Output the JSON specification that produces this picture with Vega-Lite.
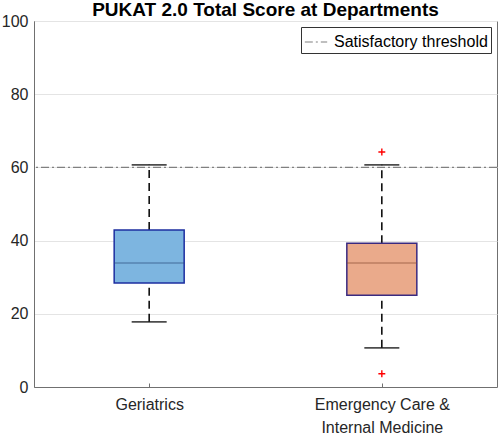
{
  "$schema": "https://vega.github.io/schema/vega-lite/v6.json",
  "autosize": "none",
  "width": 463,
  "height": 366,
  "padding": {"left": 34, "top": 21, "right": 3, "bottom": 48},
  "background": "white",
  "title": {"text": "PUKAT 2.0 Total Score at Departments", "font": "Liberation Sans", "fontSize": 19, "fontWeight": "bold", "color": "#000000", "offset": -7, "anchor": "middle"},
  "config": {
    "view": {"stroke": "#707070", "strokeWidth": 1},
    "font": "Liberation Sans"
  },
  "datasets": {
    "boxes": [
      {"dept": "Geriatrics", "lo": 17.8, "q1": 28.4, "median": 33.9, "q3": 42.9, "hi": 60.7},
      {"dept": "Emergency Care & Internal Medicine", "lo": 10.7, "q1": 25.1, "median": 33.9, "q3": 39.3, "hi": 60.7}
    ],
    "outliers": [
      {"dept": "Emergency Care & Internal Medicine", "value": 64.2},
      {"dept": "Emergency Care & Internal Medicine", "value": 3.6}
    ],
    "threshold": [{"label": "Satisfactory threshold", "y": 60}]
  },
  "encoding": {
    "x": {
      "field": "dept", "type": "nominal",
      "sort": ["Geriatrics", "Emergency Care & Internal Medicine"],
      "scale": {"type": "point", "padding": 0.495, "domain": ["Geriatrics", "Emergency Care & Internal Medicine"]},
      "axis": {
        "title": null, "labelAngle": 0, "labelFontSize": 16, "labelColor": "#262626",
        "labelPadding": 13, "labelLineHeight": 23, "domainColor": "#707070", "tickColor": "#707070", "tickSize": -4,
        "labelExpr": "datum.value == 'Emergency Care & Internal Medicine' ? ['Emergency Care &', 'Internal Medicine'] : datum.value"
      }
    }
  },
  "layer": [
    {
      "data": {"name": "threshold"},
      "mark": {"type": "rule", "color": "#808080", "strokeWidth": 1.2},
      "encoding": {
        "x": null,
        "y": {"field": "y", "type": "quantitative", "scale": {"domain": [0, 100], "nice": false},
          "axis": {"title": null, "values": [0, 20, 40, 60, 80, 100], "labelFontSize": 16, "labelColor": "#262626", "labelPadding": 6, "ticks": false,
            "domainColor": "#707070", "grid": true, "gridColor": "#e4e4e4", "gridWidth": 1}},
        "strokeDash": {"field": "label", "type": "nominal",
          "scale": {"domain": ["Satisfactory threshold"], "range": [[8, 3, 2, 3]]},
          "legend": {"title": null, "orient": "top-right", "offset": 6, "symbolType": "stroke", "symbolStrokeColor": "#808080", "symbolStrokeWidth": 1.2, "symbolSize": 500,
            "labelFontSize": 16, "labelColor": "#000000", "strokeColor": "#333333", "fillColor": "white", "padding": 3, "cornerRadius": 0, "labelOffset": 6}}
      }
    },
    {
      "data": {"name": "boxes"},
      "mark": {"type": "rule", "color": "#000000", "strokeWidth": 1.5, "strokeDash": [8, 5]},
      "encoding": {"y": {"field": "lo", "type": "quantitative"}, "y2": {"field": "q1"}}
    },
    {
      "data": {"name": "boxes"},
      "mark": {"type": "rule", "color": "#000000", "strokeWidth": 1.5, "strokeDash": [8, 5]},
      "encoding": {"y": {"field": "q3", "type": "quantitative"}, "y2": {"field": "hi"}}
    },
    {
      "data": {"name": "boxes"},
      "mark": {"type": "tick", "color": "#000000", "size": 35, "thickness": 1.8},
      "encoding": {"y": {"field": "lo", "type": "quantitative"}}
    },
    {
      "data": {"name": "boxes"},
      "mark": {"type": "tick", "color": "#000000", "size": 35, "thickness": 1.8},
      "encoding": {"y": {"field": "hi", "type": "quantitative"}}
    },
    {
      "data": {"name": "boxes"},
      "mark": {"type": "bar", "size": 70, "strokeWidth": 1.5},
      "encoding": {
        "y": {"field": "q1", "type": "quantitative"}, "y2": {"field": "q3"},
        "fill": {"field": "dept", "type": "nominal", "scale": {"domain": ["Geriatrics", "Emergency Care & Internal Medicine"], "range": ["#7db5e0", "#eaaa8b"]}, "legend": null},
        "stroke": {"field": "dept", "type": "nominal", "scale": {"domain": ["Geriatrics", "Emergency Care & Internal Medicine"], "range": ["#1c2ea0", "#3a2a80"]}, "legend": null}
      }
    },
    {
      "data": {"name": "boxes"},
      "mark": {"type": "tick", "size": 70, "thickness": 1},
      "encoding": {
        "y": {"field": "median", "type": "quantitative"},
        "color": {"field": "dept", "type": "nominal", "scale": {"domain": ["Geriatrics", "Emergency Care & Internal Medicine"], "range": ["#2a4a7a", "#8a4a30"]}, "legend": null}
      }
    },
    {
      "data": {"name": "outliers"},
      "mark": {"type": "point", "shape": "M-1,0H1M0,-1V1", "size": 48, "stroke": "#ff0000", "strokeWidth": 1.4, "filled": false, "opacity": 1},
      "encoding": {"y": {"field": "value", "type": "quantitative"}}
    }
  ]
}
